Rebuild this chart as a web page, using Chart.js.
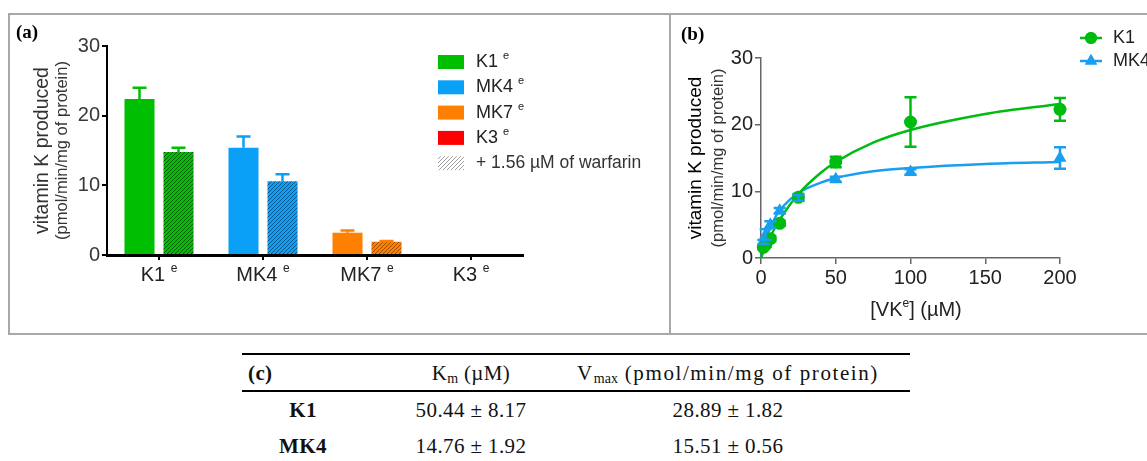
<!DOCTYPE html>
<html>
<head>
<meta charset="utf-8">
<script src="https://cdn.jsdelivr.net/npm/chart.js@4.4.1/dist/chart.umd.min.js"></script>
<style>
  body { margin: 0; background: #fff; }
  #wrap { position: relative; width: 1147px; height: 461px; overflow: hidden; background: #fff; }
  .box { position: absolute; border: 2px solid #a8a8a8; box-sizing: border-box; }
  #boxA { left: 8px; top: 13px; width: 663px; height: 322px; }
  #boxB { left: 669px; top: 13px; width: 490px; height: 322px; }
  canvas { position: absolute; }
  .tag { position: absolute; font: bold 19px "Liberation Serif", serif; color: #000; }
  #tbl { position: absolute; left: 0; top: 0; font-family: "Liberation Serif", serif; font-size: 21px; color: #111; }
  #tbl .rule { position: absolute; left: 242px; width: 668px; height: 2px; background: #000; }
  #tbl .cell { position: absolute; white-space: nowrap; transform: translate(-50%, -50%); letter-spacing: 0.4px; }
  #tbl sub { font-size: 14px; vertical-align: -3px; line-height: 0; letter-spacing: 0; }
</style>
</head>
<body>
<div id="wrap">
  <div class="box" id="boxA"></div>
  <div class="box" id="boxB"></div>
  <canvas id="chartA" width="662" height="322" style="left:8px;top:13px;width:662px;height:322px"></canvas>
  <canvas id="chartB" width="478" height="322" style="left:669px;top:13px;width:478px;height:322px"></canvas>
  <div class="tag" style="left:16px;top:21px">(a)</div>
  <div class="tag" style="left:681px;top:23px">(b)</div>
  <div id="tbl"></div>
</div>
<script>
// ---- panel (a) data ----
const categories = ['K1', 'MK4', 'MK7', 'K3'];
const controlValues = [22.4, 15.4, 3.2, 0];
const controlErrors = [1.6, 1.6, 0.3, 0];
const warfarinValues = [14.8, 10.6, 1.9, 0];
const warfarinErrors = [0.6, 1.0, 0.1, 0];
const legendLabelsA = ['K1', 'MK4', 'MK7', 'K3'];
const warfarinLabel = '+ 1.56 µM of warfarin';

// ---- panel (b) data ----
const vkConc = [1.56, 3.125, 6.25, 12.5, 25, 50, 100, 200];
const k1Rate = [1.6, 2.0, 2.9, 5.2, 9.1, 14.4, 20.4, 22.3];
const k1Err = [0.2, 0.3, 0.4, 0.4, 0.5, 0.8, 3.7, 1.7];
const mk4Rate = [2.4, 3.5, 5.0, 7.1, 9.0, 11.8, 12.9, 15.0];
const mk4Err = [0.3, 0.8, 0.5, 0.4, 0.4, 0.4, 0.4, 1.6];
const fitConc = [0, 2.5, 5, 10, 15, 25, 40, 50, 75, 100, 150, 200];
const k1Fit = [0, 1.4, 2.6, 4.8, 6.6, 9.6, 12.8, 14.4, 17.3, 19.2, 21.6, 23.1];
const mk4Fit = [0, 2.25, 3.9, 6.3, 7.8, 9.75, 11.3, 12.0, 13.0, 13.5, 14.1, 14.4];

// ---- table (c) ----
const tableHead = ['(c)', 'K<sub>m</sub> (µM)', 'V<sub>max</sub> (pmol/min/mg of protein)'];
const tableRows = [
  ['K1', '50.44 ± 8.17', '28.89 ± 1.82'],
  ['MK4', '14.76 ± 1.92', '15.51 ± 0.56']
];

const barColors = ['#00bf00', '#0aa0f8', '#ff8000', '#ff0000'];
const hatchColors = ['#005a00', '#0b5488', '#a04c00', '#900000'];
const green = '#00bb10';
const blue = '#1a9ff0';
const SANS = '"Liberation Sans", Arial, sans-serif';

function hatch(base, line) {
  const c = document.createElement('canvas');
  c.width = 4; c.height = 4;
  const g = c.getContext('2d');
  g.fillStyle = base;
  g.fillRect(0, 0, 4, 4);
  g.strokeStyle = line;
  g.lineWidth = 1;
  g.beginPath();
  g.moveTo(0, 4); g.lineTo(4, 0);
  g.moveTo(-1, 1); g.lineTo(1, -1);
  g.moveTo(3, 5); g.lineTo(5, 3);
  g.stroke();
  return g.createPattern(c, 'repeat');
}

// draw text pieces, some of them superscript
function drawRich(ctx, parts, x, y, size, align, color) {
  const small = Math.round(size * 0.62);
  let w = 0;
  parts.forEach(p => {
    ctx.font = (p.sup ? small : size) + 'px ' + SANS;
    p.w = ctx.measureText(p.t).width;
    w += p.w;
  });
  let x0 = align === 'center' ? x - w / 2 : x;
  ctx.fillStyle = color;
  ctx.textAlign = 'left';
  ctx.textBaseline = 'middle';
  parts.forEach(p => {
    ctx.font = (p.sup ? small : size) + 'px ' + SANS;
    ctx.fillText(p.t, x0, p.sup ? y - size * 0.33 : y);
    x0 += p.w;
  });
}

function drawVertical(ctx, text, x, y, size, color) {
  ctx.save();
  ctx.translate(x, y);
  ctx.rotate(-Math.PI / 2);
  ctx.font = size + 'px ' + SANS;
  ctx.fillStyle = color;
  ctx.textAlign = 'center';
  ctx.textBaseline = 'middle';
  ctx.fillText(text, 0, 0);
  ctx.restore();
}

// ---------- chart (a) ----------
const ctxA = document.getElementById('chartA').getContext('2d');
const warfarinFills = barColors.map((c, i) => hatch(c, hatchColors[i]));
const warfarinLegendFill = hatch('#ffffff', '#a0a0a0');

const errorBarsA = {
  id: 'errorBarsA',
  afterDatasetsDraw(chart) {
    const ctx = chart.ctx;
    const y = chart.scales.y;
    const errs = [controlErrors, warfarinErrors];
    chart.data.datasets.forEach((ds, di) => {
      chart.getDatasetMeta(di).data.forEach((bar, i) => {
        const e = errs[di][i];
        if (!e) return;
        const top = y.getPixelForValue(ds.data[i] + e);
        ctx.save();
        ctx.strokeStyle = barColors[i];
        ctx.lineWidth = 2.5;
        ctx.beginPath();
        ctx.moveTo(bar.x, bar.y);
        ctx.lineTo(bar.x, top);
        ctx.moveTo(bar.x - 7, top);
        ctx.lineTo(bar.x + 7, top);
        ctx.stroke();
        ctx.restore();
      });
    });
  }
};

const labelsA = {
  id: 'labelsA',
  afterDraw(chart) {
    const ctx = chart.ctx;
    const area = chart.chartArea;
    const x = chart.scales.x;
    categories.forEach((c, i) => {
      drawRich(ctx, [{ t: c + ' ' }, { t: 'e', sup: true }], x.getPixelForValue(i), area.bottom + 20, 20, 'center', '#222');
    });
    const midY = (area.top + area.bottom) / 2;
    drawVertical(ctx, 'vitamin K produced', 35, midY, 19.5, '#333');
    drawVertical(ctx, '(pmol/min/mg of protein)', 54, midY, 16.5, '#333');

    // legend
    const lx = 430, ly = 49, step = 25.3;
    legendLabelsA.forEach((lab, i) => {
      ctx.fillStyle = barColors[i];
      ctx.fillRect(lx, ly + i * step - 7, 26, 14);
      drawRich(ctx, [{ t: lab + ' ' }, { t: 'e', sup: true }], lx + 38, ly + i * step, 18, 'left', '#222');
    });
    const wy = ly + 4 * step;
    ctx.fillStyle = warfarinLegendFill;
    ctx.fillRect(lx, wy - 7, 26, 14);
    drawRich(ctx, [{ t: warfarinLabel }], lx + 38, wy, 17.5, 'left', '#333');
  }
};

new Chart(ctxA, {
  type: 'bar',
  data: {
    labels: categories,
    datasets: [
      { label: 'control', data: controlValues, backgroundColor: barColors, borderWidth: 0 },
      { label: 'warfarin', data: warfarinValues, backgroundColor: warfarinFills, borderWidth: 0 }
    ]
  },
  options: {
    responsive: false,
    animation: false,
    categoryPercentage: 0.75,
    barPercentage: 0.77,
    layout: { padding: { left: 0, top: 33, right: 147, bottom: 40 } },
    plugins: { legend: { display: false }, tooltip: { enabled: false } },
    scales: {
      x: {
        ticks: { display: false },
        grid: { offset: false, drawOnChartArea: false, tickLength: 5, color: '#000', lineWidth: 2 },
        border: { color: '#000', width: 3 },
        afterFit: s => { s.height = 40; }
      },
      y: {
        min: 0,
        max: 30,
        ticks: { stepSize: 10, padding: 2, color: '#383838', font: { family: SANS, size: 20 } },
        grid: { drawOnChartArea: false, tickLength: 5, color: '#000', lineWidth: 2 },
        border: { color: '#000', width: 2 },
        afterFit: s => { s.width = 99; }
      }
    }
  },
  plugins: [errorBarsA, labelsA]
});

// ---------- chart (b) ----------
const ctxB = document.getElementById('chartB').getContext('2d');
const errsB = { 0: k1Err, 1: mk4Err };

const errorBarsB = {
  id: 'errorBarsB',
  afterDatasetsDraw(chart) {
    const ctx = chart.ctx;
    const y = chart.scales.y;
    [0, 1].forEach(di => {
      const ds = chart.data.datasets[di];
      chart.getDatasetMeta(di).data.forEach((pt, i) => {
        const v = ds.data[i].y, e = errsB[di][i];
        const top = y.getPixelForValue(v + e), bot = y.getPixelForValue(v - e);
        ctx.save();
        ctx.strokeStyle = ds.borderColor;
        ctx.lineWidth = 2.5;
        ctx.beginPath();
        ctx.moveTo(pt.x, top); ctx.lineTo(pt.x, bot);
        ctx.moveTo(pt.x - 6, top); ctx.lineTo(pt.x + 6, top);
        ctx.moveTo(pt.x - 6, bot); ctx.lineTo(pt.x + 6, bot);
        ctx.stroke();
        ctx.restore();
      });
    });
  }
};

const labelsB = {
  id: 'labelsB',
  afterDraw(chart) {
    const ctx = chart.ctx;
    const area = chart.chartArea;
    const midY = (area.top + area.bottom) / 2;
    drawVertical(ctx, 'vitamin K produced', 27, midY, 19, '#000');
    drawVertical(ctx, '(pmol/min/mg of protein)', 49, midY, 16.5, '#333');
    drawRich(ctx, [{ t: '[VK' }, { t: 'e', sup: true }, { t: '] (µM)' }], 247, 297, 20, 'center', '#222');

    // legend
    const items = [
      { label: 'K1', color: green, style: 'circle', r: 6 },
      { label: 'MK4', color: blue, style: 'triangle', r: 7 }
    ];
    items.forEach((it, i) => {
      const y = 25 + i * 23;
      ctx.save();
      ctx.strokeStyle = it.color;
      ctx.lineWidth = 2.5;
      ctx.beginPath(); ctx.moveTo(411, y); ctx.lineTo(433, y); ctx.stroke();
      ctx.fillStyle = it.color;
      Chart.helpers.drawPoint(ctx, { pointStyle: it.style, radius: it.r, borderWidth: 0 }, 422, y);
      ctx.fill();
      ctx.restore();
      drawRich(ctx, [{ t: it.label }], 444, y, 18, 'left', '#222');
    });
  }
};

const tickFontB = { family: SANS, size: 20 };
new Chart(ctxB, {
  type: 'scatter',
  data: {
    datasets: [
      {
        label: 'K1', data: vkConc.map((x, i) => ({ x, y: k1Rate[i] })),
        pointStyle: 'circle', pointRadius: 6.5, backgroundColor: green, borderColor: green,
        pointBorderWidth: 0, showLine: false, clip: false
      },
      {
        label: 'MK4', data: vkConc.map((x, i) => ({ x, y: mk4Rate[i] })),
        pointStyle: 'triangle', pointRadius: 7.5, backgroundColor: blue, borderColor: blue,
        pointBorderWidth: 0, showLine: false, clip: false
      },
      {
        label: 'K1 fit', data: fitConc.map((x, i) => ({ x, y: k1Fit[i] })),
        showLine: true, pointRadius: 0, borderColor: green, borderWidth: 2.5,
        cubicInterpolationMode: 'monotone', clip: false
      },
      {
        label: 'MK4 fit', data: fitConc.map((x, i) => ({ x, y: mk4Fit[i] })),
        showLine: true, pointRadius: 0, borderColor: blue, borderWidth: 2.5,
        cubicInterpolationMode: 'monotone', clip: false
      }
    ]
  },
  options: {
    responsive: false,
    animation: false,
    layout: { padding: { left: 0, top: 45, right: 87, bottom: 37 } },
    plugins: { legend: { display: false }, tooltip: { enabled: false } },
    scales: {
      x: {
        type: 'linear', min: 0, max: 200,
        ticks: { stepSize: 50, padding: 2, color: '#222', font: tickFontB },
        grid: { drawOnChartArea: false, tickLength: 6, color: '#666', lineWidth: 1.5 },
        border: { color: '#666', width: 1.5 },
        afterFit: s => { s.height = 40; }
      },
      y: {
        min: 0, max: 30,
        ticks: { stepSize: 10, padding: 2, color: '#222', font: tickFontB },
        grid: { drawOnChartArea: false, tickLength: 6, color: '#666', lineWidth: 1.5 },
        border: { color: '#666', width: 1.5 },
        afterFit: s => { s.width = 92; }
      }
    }
  },
  plugins: [errorBarsB, labelsB]
});

// ---------- table (c) ----------
const tbl = document.getElementById('tbl');
const colX = [303, 471, 728];
const rowY = [410, 446];
tbl.innerHTML =
  '<div class="rule" style="top:353px"></div><div class="rule" style="top:390px"></div>';
tableHead.forEach((h, j) => {
  const d = document.createElement('div');
  d.className = 'cell';
  d.innerHTML = h;
  if (j === 0) { d.style.transform = 'translate(0,-50%)'; d.style.left = '248px'; d.style.fontWeight = 'bold'; }
  else d.style.left = colX[j] + 'px';
  if (j === 2) d.style.letterSpacing = '1.6px';
  d.style.top = '373px';
  tbl.appendChild(d);
});
tableRows.forEach((row, r) => {
  row.forEach((v, j) => {
    const d = document.createElement('div');
    d.className = 'cell';
    d.textContent = v;
    d.style.left = colX[j] + 'px';
    d.style.top = rowY[r] + 'px';
    if (j === 0) d.style.fontWeight = 'bold';
    tbl.appendChild(d);
  });
});
</script>
</body>
</html>
